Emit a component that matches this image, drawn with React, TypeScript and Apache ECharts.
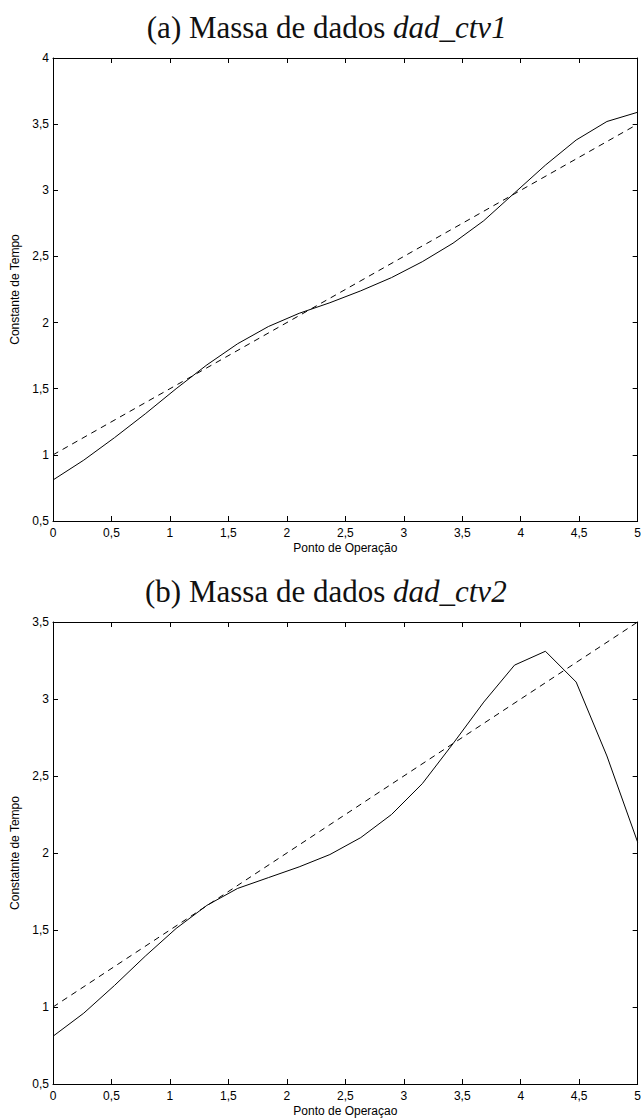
import React, { useEffect, useRef } from "react";
import * as echarts from "echarts";

const xPoints = [0, 0.263, 0.526, 0.789, 1.053, 1.316, 1.579, 1.842, 2.105, 2.368, 2.632, 2.895, 3.158, 3.421, 3.684, 3.947, 4.211, 4.474, 4.737, 5];
const solid1 = [0.81, 0.96, 1.13, 1.31, 1.5, 1.68, 1.84, 1.97, 2.07, 2.15, 2.24, 2.34, 2.46, 2.6, 2.77, 2.98, 3.19, 3.38, 3.52, 3.59];
const solid2 = [0.81, 0.96, 1.14, 1.33, 1.51, 1.66, 1.77, 1.84, 1.91, 1.99, 2.1, 2.25, 2.45, 2.71, 2.98, 3.22, 3.31, 3.11, 2.63, 2.07];
const dashedX = [0, 5];
const dashed1 = [1.0, 3.5];
const dashed2 = [1.0, 3.5];
const titles = ["(a) Massa de dados ", "(b) Massa de dados "];
const titlesItalic = ["dad_ctv1", "dad_ctv2"];
const xNames = ["Ponto de Operação", "Ponto de Operaçao"];
const yNames = ["Constante de Tempo", "Constatnte de Tempo"];
const yMax = [4, 3.5];

const fmt = (v: number) => String(v).replace(".", ",");
const sans = "Liberation Sans, Arial, sans-serif";
const serif = "Liberation Serif, Times New Roman, serif";

export default function App() {
  const ref = useRef<HTMLDivElement>(null);
  useEffect(() => {
    if (!ref.current) return;
    const chart = echarts.init(ref.current, undefined, { renderer: "svg" });
    const grids = [
      { left: 53, top: 58, width: 586, height: 463 },
      { left: 53, top: 622, width: 586, height: 462 },
    ];
    const xAxis: any[] = [];
    const yAxis: any[] = [];
    const series: any[] = [];
    const lineCol = "#000";
    grids.forEach((g, i) => {
      const common = {
        gridIndex: i,
        min: 0,
        max: 5,
        interval: 0.5,
        type: "value",
        axisLine: { onZero: false, lineStyle: { color: lineCol, width: 1 } },
        axisTick: { inside: true, length: 5, lineStyle: { color: lineCol } },
        splitLine: { show: false },
      };
      xAxis.push({
        ...common,
        position: "bottom",
        axisLabel: { formatter: fmt, color: "#000", fontSize: 12, fontFamily: sans, margin: 6 },
        name: xNames[i],
        nameLocation: "middle",
        nameGap: 21,
        nameTextStyle: { color: "#000", fontSize: 12, fontFamily: sans },
      });
      xAxis.push({ ...common, position: "top", axisLabel: { show: false } });
      const ycommon = {
        gridIndex: i,
        min: 0.5,
        max: yMax[i],
        interval: 0.5,
        type: "value",
        axisLine: { onZero: false, lineStyle: { color: lineCol, width: 1 } },
        axisTick: { inside: true, length: 5, lineStyle: { color: lineCol } },
        splitLine: { show: false },
      };
      yAxis.push({
        ...ycommon,
        position: "left",
        axisLabel: { formatter: fmt, color: "#000", fontSize: 12, fontFamily: sans, margin: 4 },
        name: yNames[i],
        nameLocation: "middle",
        nameGap: 30,
        nameRotate: 90,
        nameTextStyle: { color: "#000", fontSize: 12, fontFamily: sans },
      });
      yAxis.push({ ...ycommon, position: "right", axisLabel: { show: false } });
      const solid = i === 0 ? solid1 : solid2;
      const dashed = i === 0 ? dashed1 : dashed2;
      series.push({
        type: "line",
        xAxisIndex: i * 2,
        yAxisIndex: i * 2,
        data: xPoints.map((x, k) => [x, solid[k]]),
        showSymbol: false,
        symbol: "none",
        lineStyle: { color: "#000", width: 1 },
      });
      series.push({
        type: "line",
        xAxisIndex: i * 2,
        yAxisIndex: i * 2,
        data: dashedX.map((x, k) => [x, dashed[k]]),
        showSymbol: false,
        symbol: "none",
        lineStyle: { color: "#000", width: 1, type: [6, 5] },
      });
    });
    const titleY = [27, 591];
    const split = 393;
    const graphic: any[] = [];
    titleY.forEach((y, i) => {
      graphic.push({
        type: "text",
        x: split,
        y,
        style: {
          text: titles[i],
          fontFamily: serif,
          fontSize: 31,
          fill: "#111",
          align: "right",
          verticalAlign: "middle",
        },
      });
      graphic.push({
        type: "text",
        x: split,
        y,
        style: {
          text: titlesItalic[i],
          fontFamily: serif,
          fontSize: 31,
          fontStyle: "italic",
          fill: "#111",
          align: "left",
          verticalAlign: "middle",
        },
      });
    });
    chart.setOption({
      animation: false,
      backgroundColor: "#fff",
      grid: grids,
      xAxis,
      yAxis,
      series,
      graphic,
    });
    return () => chart.dispose();
  }, []);
  return (
    <div
      ref={ref}
      style={{ position: "absolute", left: 0, top: 0, width: 644, height: 1120, background: "#fff" }}
    />
  );
}
